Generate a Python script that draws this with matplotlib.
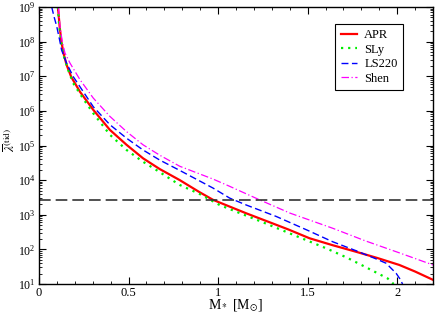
import numpy as np
import matplotlib
matplotlib.use("Agg")
import matplotlib.pyplot as plt
from matplotlib.ticker import LogLocator, MultipleLocator, FixedLocator, NullFormatter

plt.rcParams['font.family'] = ['Liberation Serif', 'DejaVu Serif']
plt.rcParams['mathtext.fontset'] = 'stix'

# ---- data (log10 of lambda_bar^(tid)) ----
apr_m = [0.106, 0.115, 0.126, 0.14, 0.154, 0.18, 0.229, 0.303, 0.396, 0.489, 0.581, 0.674,
         0.786, 0.897, 0.972, 1.158, 1.269, 1.39, 1.511, 1.64, 1.771, 1.89, 2.012, 2.1, 2.2]
apr_log = [9.0, 8.45, 7.96, 7.6, 7.33, 6.98, 6.55, 6.03, 5.45, 5.02, 4.63, 4.32,
           4.0, 3.65, 3.43, 3.04, 2.82, 2.58, 2.32, 2.12, 1.93, 1.75, 1.55, 1.36, 1.12]

sly_m = [0.105, 0.113, 0.125, 0.14, 0.163, 0.191, 0.247, 0.303, 0.396, 0.489, 0.581, 0.656,
         0.786, 0.897, 1.009, 1.12, 1.232, 1.42, 1.604, 1.72, 1.827, 1.947, 1.98]
sly_log = [9.0, 8.45, 7.95, 7.55, 7.18, 6.80, 6.35, 5.93, 5.31, 4.87, 4.53, 4.29,
           3.86, 3.60, 3.28, 3.05, 2.82, 2.42, 2.03, 1.76, 1.48, 1.16, 1.0]

ls220_m = [0.071, 0.085, 0.099, 0.117, 0.126, 0.154, 0.191, 0.303, 0.396, 0.489, 0.581, 0.674,
           0.786, 0.972, 1.065, 1.158, 1.325, 1.50, 1.64, 1.771, 1.88, 1.938, 1.994, 2.015, 2.03]
ls220_log = [9.0, 8.7, 8.44, 8.0, 7.76, 7.38, 6.99, 6.12, 5.60, 5.21, 4.87, 4.58,
             4.28, 3.77, 3.48, 3.28, 2.95, 2.55, 2.22, 1.96, 1.73, 1.60, 1.31, 1.15, 1.0]

shen_m = [0.108, 0.118, 0.13, 0.145, 0.173, 0.229, 0.303, 0.396, 0.489, 0.581, 0.674, 0.786,
          0.972, 1.065, 1.232, 1.40, 1.64, 1.82, 2.012, 2.2]
shen_log = [9.0, 8.4, 8.0, 7.67, 7.38, 6.90, 6.37, 5.84, 5.40, 5.02, 4.72, 4.40,
            4.03, 3.82, 3.43, 3.05, 2.61, 2.25, 1.90, 1.55]

threshold = 2700.0

labels = ["APR", "SLy", "LS220", "Shen"]
x_ticks = [0, 0.5, 1, 1.5, 2]
x_tick_labels = ["0", "0.5", "1", "1.5", "2"]

fig = plt.figure(figsize=(4.36, 3.16), dpi=100)
ax = fig.add_axes([39/436, 1-284/316, (433-39)/436, (284-7)/316])

ax.plot(apr_m, 10**np.array(apr_log), color='#ff0000', lw=1.6, ls='-', label=labels[0])
ax.plot(sly_m, 10**np.array(sly_log), color='#00ee00', lw=1.6, ls=(0, (1, 2.2)), label=labels[1])
ax.plot(ls220_m, 10**np.array(ls220_log), color='#0000ff', lw=1.0, ls=(0, (5, 2.5)), label=labels[2])
ax.plot(shen_m, 10**np.array(shen_log), color='#ff00ff', lw=0.9, ls=(0, (6, 2, 1, 2)), label=labels[3])
ax.axhline(threshold, color='#333333', lw=1.2, ls=(0, (7, 3)))

ax.set_yscale('log')
ax.set_xlim(0, 2.2)
ax.set_ylim(10, 1e9)

ax.xaxis.set_major_locator(FixedLocator(x_ticks))
ax.set_xticklabels(x_tick_labels)
ax.xaxis.set_minor_locator(MultipleLocator(0.1))
ax.yaxis.set_major_locator(LogLocator(base=10, numticks=20))
ax.yaxis.set_minor_locator(LogLocator(base=10, subs=np.arange(2, 10), numticks=100))
ax.yaxis.set_minor_formatter(NullFormatter())

ax.tick_params(which='both', direction='in', top=True, right=True, colors='black')
ax.tick_params(axis='x', labelsize=9)
ax.tick_params(axis='y', labelsize=8.5)
ax.tick_params(which='major', length=5, width=0.8, pad=2.5)
ax.tick_params(which='minor', length=2.5, width=0.6)
for s in ax.spines.values():
    s.set_linewidth(1.0)

ax.set_xlabel(r'M$_*$ [M$_{\odot}$]', fontsize=10, labelpad=-1)
ax.set_ylabel(r'$\overline{\lambda}^{(\mathrm{tid})}$', fontsize=9.5)
ax.yaxis.set_label_coords(-0.052, 0.52)

leg = ax.legend(loc='upper left', bbox_to_anchor=(0.751, 0.94), borderaxespad=0, fontsize=9,
                handlelength=1.3, handletextpad=0.6, borderpad=0.45, labelspacing=0.2,
                fancybox=False, framealpha=1, edgecolor='black')
leg.get_frame().set_linewidth(0.8)

fig.savefig('out.png', dpi=100)
